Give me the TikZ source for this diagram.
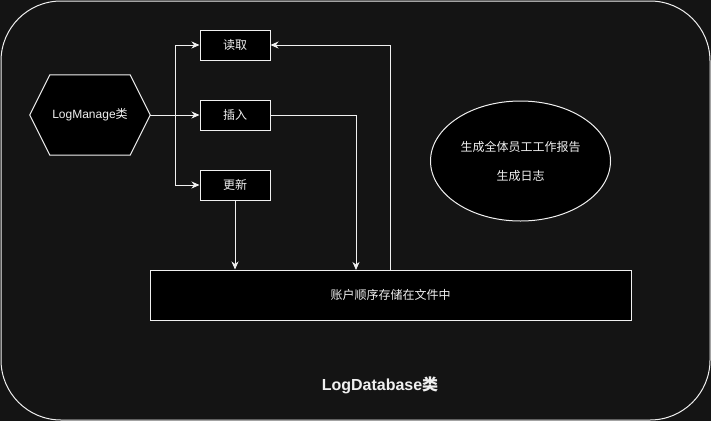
\documentclass[tikz,border=0pt]{standalone}
\usepackage{fontspec}
\setmainfont{Liberation Sans}
\newfontfamily\cjk{Noto Sans CJK SC}
\usetikzlibrary{shapes.geometric,arrows.meta}
\definecolor{bg}{HTML}{141414}
\definecolor{fg}{HTML}{F0F0F0}
\tikzset{
  box/.style={draw=fg, fill=black, line width=1pt, minimum width=70pt, minimum height=30pt, inner sep=0pt, text=fg, font=\fontsize{12}{14}\selectfont\cjk},
  arr/.style={draw=fg, line width=1pt, -{Stealth[length=8pt,width=7pt,inset=2.5pt]}},
  ln/.style={draw=fg, line width=1pt},
}
\begin{document}
\begin{tikzpicture}[x=1pt,y=-1pt]
\useasboundingbox (0,0) rectangle (711,421);
\fill[bg] (0,0) rectangle (711,421);
\draw[fg, line width=1pt, rounded corners=60pt] (1,1) rectangle (710,420);
% hexagon
\node[minimum width=120pt, minimum height=80pt, inner sep=0pt] (hex) at (90,115) {};
\draw[ln, fill=black] (hex.west) -- ([xshift=20pt]hex.north west) -- ([xshift=-20pt]hex.north east) -- (hex.east) -- ([xshift=-20pt]hex.south east) -- ([xshift=20pt]hex.south west) -- cycle;
\node[text=fg, font=\fontsize{12}{14}\selectfont] (hexlabel) at (hex.center) {LogManage{\cjk 类}};
% boxes
\node[box] (read) at (235,45) {读取};
\node[box] (insert) at (235,115) {插入};
\node[box] (update) at (235,185) {更新};
\node[box, minimum width=481pt, minimum height=50pt] (store) at (390.5,295) {账户顺序存储在文件中};
% ellipse
\node[draw=fg, fill=black, line width=1pt, ellipse, minimum width=180pt, minimum height=120pt, inner sep=0pt, text=fg, align=center, font=\fontsize{12}{29}\selectfont\cjk] (ell) at (520.5,161) {生成全体员工工作报告\\生成日志};
% title
\node[text=fg, font=\fontsize{16}{18}\selectfont\bfseries] (title) at (380,385) {LogDatabase{\cjk 类}};
% connectors
\coordinate (j) at (175,115);
\draw[arr] (hex.east) -- (insert.west);
\draw[arr] (j) |- (read.west);
\draw[arr] (j) |- (update.west);
\coordinate (ins) at (356,270);
\draw[arr] (insert.east) -| (ins);
\draw[arr] (update.south) -- (update.south |- store.north);
\draw[arr] (store.north) |- (read.east);
\end{tikzpicture}
\end{document}
